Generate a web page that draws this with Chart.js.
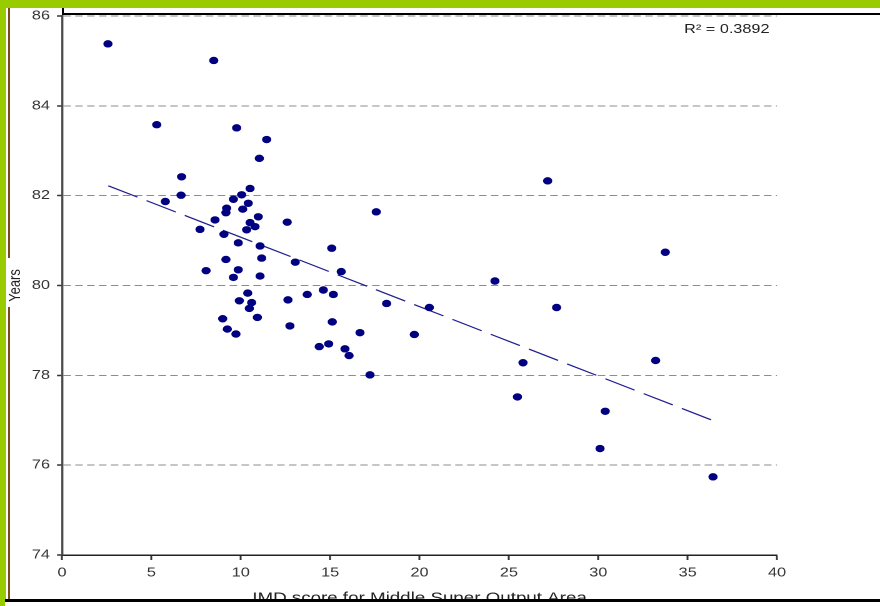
<!DOCTYPE html>
<html>
<head>
<meta charset="utf-8">
<script src="https://cdn.jsdelivr.net/npm/chart.js@4"></script>
<style>
  html, body { margin: 0; padding: 0; background: #fff; }
  body { width: 880px; height: 606px; position: relative; overflow: hidden; }
  .deco { position: absolute; z-index: 2; }
  /* the picture is stretched sideways, so the chart is drawn narrow and scaled */
  #wrap { position: absolute; left: 0; top: 0; width: 704px; height: 606px;
          transform: scaleX(1.25); transform-origin: 0 0; z-index: 1; }
</style>
</head>
<body>
<div class="deco" style="left:0;top:0;width:880px;height:8px;background:#99cc00"></div>
<div class="deco" style="left:0;top:0;width:6px;height:606px;background:#99cc00"></div>
<div class="deco" style="left:8px;top:8px;width:2px;height:250px;background:#7b4a16"></div>
<div class="deco" style="left:8px;top:307px;width:2px;height:299px;background:#7b4a16"></div>
<div class="deco" style="left:62px;top:8px;width:2px;height:7px;background:#000"></div>
<div class="deco" style="left:62px;top:13px;width:818px;height:2px;background:#000"></div>
<div class="deco" style="left:5px;top:599px;width:875px;height:7px;background:#fff;border-top:3px solid #000;box-sizing:border-box"></div>
<div id="wrap"><canvas id="grafico"></canvas></div>
<script>
// IMD score (x) and life expectancy in years (y)
const imdScore = [2.57, 8.49, 5.30, 9.77, 11.45, 11.04, 6.69, 10.52, 6.66, 5.78,
                  10.05, 9.59, 10.42, 10.11, 9.21, 9.17, 10.98, 10.52, 8.56, 10.80,
                  10.33, 7.72, 9.06, 9.86, 11.08, 9.17, 11.17, 8.06, 9.86, 9.59,
                  11.08, 10.39, 9.92, 10.61, 10.48, 10.93, 8.99, 9.25, 9.73, 12.60,
                  17.58, 15.09, 13.05, 15.62, 24.22, 12.64, 13.72, 14.62, 15.18, 18.16,
                  20.55, 27.67, 12.75, 15.12, 16.67, 19.71, 14.39, 14.92, 15.83, 16.06,
                  17.23, 25.79, 25.48, 27.17, 33.75, 33.21, 30.39, 30.10, 36.42];
const lifeExp = [85.38, 85.01, 83.58, 83.51, 83.25, 82.83, 82.42, 82.16, 82.01, 81.87,
                 82.02, 81.92, 81.83, 81.70, 81.72, 81.62, 81.53, 81.40, 81.46, 81.31,
                 81.24, 81.25, 81.14, 80.95, 80.88, 80.58, 80.61, 80.33, 80.35, 80.18,
                 80.21, 79.83, 79.66, 79.62, 79.49, 79.29, 79.26, 79.03, 78.92, 81.41,
                 81.64, 80.83, 80.52, 80.31, 80.10, 79.68, 79.80, 79.90, 79.80, 79.60,
                 79.51, 79.51, 79.10, 79.19, 78.95, 78.91, 78.64, 78.70, 78.59, 78.44,
                 78.01, 78.28, 77.52, 82.33, 80.74, 78.33, 77.20, 76.37, 75.74];
// linear trend line ends
const trendX = [2.59, 36.44];
const trendY = [82.22, 76.99];
const rSquared = '0.3892';

const pontos = imdScore.map((x, i) => ({ x: x, y: lifeExp[i] }));
const tendencia = trendX.map((x, i) => ({ x: x, y: trendY[i] }));

const fonte = '"Liberation Sans", Arial, sans-serif';

// R2 label in the top right corner
const rotuloR2 = {
    id: 'rotuloR2',
    afterDraw(chart) {
        const ctx = chart.ctx;
        ctx.save();
        ctx.font = '13px ' + fonte;
        ctx.fillStyle = '#222';
        ctx.textAlign = 'right';
        ctx.textBaseline = 'alphabetic';
        ctx.fillText('R\u00B2 = ' + rSquared, chart.chartArea.right - 6, 33);
        ctx.restore();
    }
};

const ctx = document.getElementById('grafico').getContext('2d');
const grafico = new Chart(ctx, {
    type: 'scatter',
    data: {
        datasets: [{
            label: 'Trend',
            data: tendencia,
            showLine: true,
            borderColor: '#1f1f8f',
            borderWidth: 1.2,
            borderDash: [26, 8],
            pointRadius: 0,
            order: 2
        }, {
            label: 'MSOA',
            data: pontos,
            backgroundColor: '#000080',
            borderColor: '#000080',
            borderWidth: 1,
            pointRadius: 3.2,
            pointStyle: 'circle',
            order: 1
        }]
    },
    options: {
        responsive: true,
        maintainAspectRatio: false,
        animation: false,
        devicePixelRatio: 2,
        layout: { padding: { left: 0, right: 82.4, top: 16, bottom: 0 } },
        plugins: {
            legend: { display: false },
            tooltip: { enabled: false }
        },
        scales: {
            x: {
                type: 'linear',
                position: 'bottom',
                min: 0,
                max: 40,
                ticks: { stepSize: 5, color: '#333', padding: 5, maxRotation: 0,
                         font: { family: fonte, size: 13 } },
                grid: { drawOnChartArea: false, drawTicks: true, tickLength: 5,
                        tickColor: '#333', tickWidth: 1.5 },
                border: { color: '#222', width: 1.5 },
                title: { display: true, text: 'IMD score for Middle Super Output Area',
                         color: '#222', font: { family: fonte, size: 15, lineHeight: 1 },
                         padding: { top: 0, bottom: 0 } },
                afterFit(scale) { scale.height = 51; }
            },
            y: {
                min: 74,
                max: 86,
                ticks: { stepSize: 2, color: '#333', padding: 5.6,
                         font: { family: fonte, size: 13 } },
                grid: { color: '#8c8c8c', lineWidth: 1, tickLength: 4,
                        tickColor: '#333', tickWidth: 1.5 },
                border: { color: '#4a4a4a', width: 1.7, dash: [6, 3.5] },
                title: { display: true, text: 'Years', color: '#222',
                         font: { family: fonte, size: 13 },
                         padding: { top: 4.6, bottom: 0 } },
                afterFit(scale) { scale.width = 49.6; }
            }
        }
    },
    plugins: [rotuloR2]
});
</script>
</body>
</html>
